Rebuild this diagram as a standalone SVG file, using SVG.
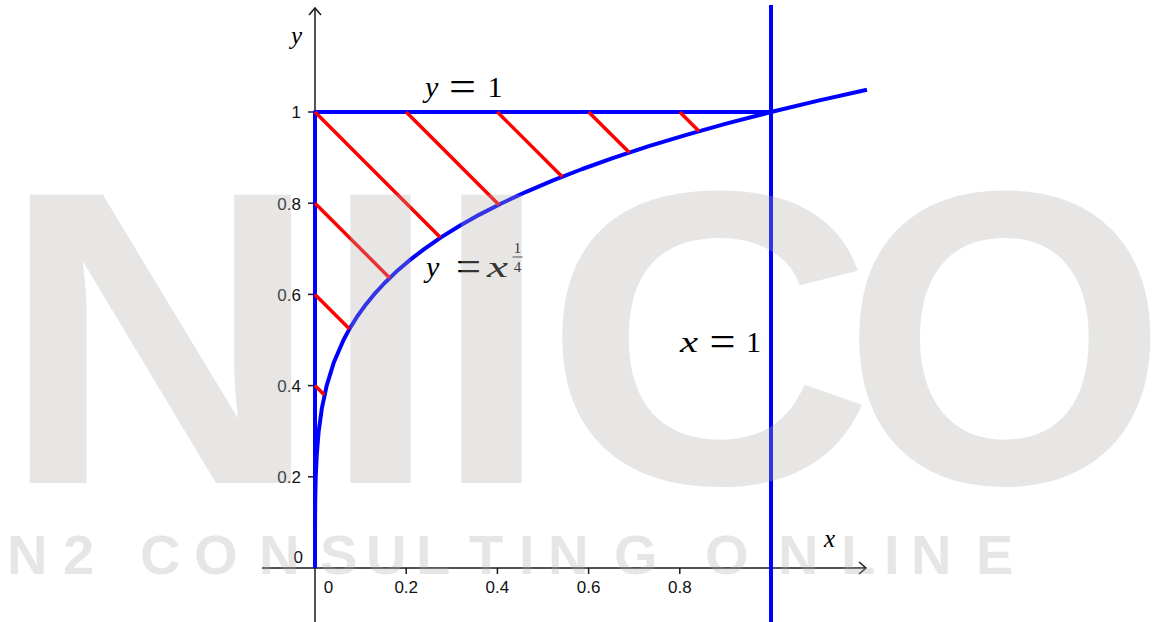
<svg xmlns="http://www.w3.org/2000/svg" width="1170" height="622" viewBox="0 0 1170 622">
<style>
.axis{stroke:#1a1a1a;stroke-width:1.5;fill:none}
.tick{stroke:#1a1a1a;stroke-width:1.5}
.tl{font-family:"Liberation Sans",Arial,sans-serif;font-size:17px;fill:#111}
.tlx{text-anchor:middle}
.tly{text-anchor:end}
.blue{stroke:#0000ff;stroke-width:4;fill:none;stroke-linejoin:round}
.red{stroke:#ff0000;stroke-width:3.5}
.math{font-family:"Liberation Serif","Times New Roman",serif;fill:#000;font-size:30px}
.it{font-style:italic}
.eq{font-size:44px;text-anchor:middle}
.frac{font-size:15px;text-anchor:middle}
.wm{font-family:"Liberation Sans",Arial,sans-serif;font-weight:bold;fill:#b2afac}
</style>
<defs>
<marker id="arr" markerWidth="10" markerHeight="14" refX="8" refY="7" orient="auto" markerUnits="userSpaceOnUse">
<path d="M1,1 L8,7 L1,13" fill="none" stroke="#1a1a1a" stroke-width="1.5"/>
</marker>
</defs>
<rect width="1170" height="622" fill="#fff"/>

<g id="axes">
<line class="axis" x1="262" y1="568" x2="866" y2="568" marker-end="url(#arr)"/>
<line class="axis" x1="315" y1="622" x2="315" y2="8" marker-end="url(#arr)"/>
<g id="x-ticks">
<line class="tick" x1="406.2" y1="568" x2="406.2" y2="574"/>
<line class="tick" x1="497.4" y1="568" x2="497.4" y2="574"/>
<line class="tick" x1="588.6" y1="568" x2="588.6" y2="574"/>
<line class="tick" x1="679.8" y1="568" x2="679.8" y2="574"/>
<line class="tick" x1="771" y1="568" x2="771" y2="574"/>
</g>
<g id="y-ticks">
<line class="tick" x1="308" y1="476.8" x2="315" y2="476.8"/>
<line class="tick" x1="308" y1="385.6" x2="315" y2="385.6"/>
<line class="tick" x1="308" y1="294.4" x2="315" y2="294.4"/>
<line class="tick" x1="308" y1="203.2" x2="315" y2="203.2"/>
<line class="tick" x1="308" y1="112" x2="315" y2="112"/>
</g>
<g id="x-tick-labels" class="tl tlx">
<text x="328.5" y="593">0</text>
<text x="406.2" y="593">0.2</text>
<text x="497.4" y="593">0.4</text>
<text x="588.6" y="593">0.6</text>
<text x="679.8" y="593">0.8</text>
</g>
<g id="y-tick-labels" class="tl tly">
<text x="303" y="563">0</text>
<text x="301" y="483">0.2</text>
<text x="301" y="392">0.4</text>
<text x="301" y="301">0.6</text>
<text x="301" y="209.5">0.8</text>
<text x="301" y="118">1</text>
</g>
<text id="x-axis-label" class="math it" x="824" y="547" style="font-size:25px">x</text>
<text id="y-axis-label" class="math it" x="291" y="44" style="font-size:25px">y</text>
</g>

<g id="boundary-x0-y1">
<polyline class="blue" points="315,568 315,112 771,112"/>
</g>
<g id="line-x1">
<line class="blue" x1="771" y1="5" x2="771" y2="622"/>
</g>
<g id="curve">
<polyline class="blue" points="315,568 315.003,545.2 315.05,522.4 315.23,499.6 315.73,476.8 316.78,454 318.69,431.2 321.84,408.4 326.67,385.6 333.70,362.8 343.5,340 349.64,328.6 356.73,317.2 364.85,305.8 374.10,294.4 384.58,283 396.40,271.6 409.66,260.2 424.49,248.8 440.98,237.4 459.28,226 479.50,214.6 501.78,203.2 526.24,191.8 553.03,180.4 582.30,169 614.18,157.6 648.83,146.2 686.41,134.8 727.08,123.4 771,112 818.34,100.6 866.95,89.7"/>
</g>
<g id="hatch">
<line class="red" x1="315" y1="385.6" x2="324.4" y2="395"/>
<line class="red" x1="315" y1="294.4" x2="349.5" y2="328.9"/>
<line class="red" x1="315" y1="203.2" x2="389.7" y2="277.9"/>
<line class="red" x1="315" y1="112" x2="440.2" y2="237.2"/>
<line class="red" x1="406.2" y1="112" x2="498.9" y2="204.7"/>
<line class="red" x1="497.4" y1="112" x2="562.2" y2="176.8"/>
<line class="red" x1="588.6" y1="112" x2="629.3" y2="152.5"/>
<line class="red" x1="679.8" y1="112" x2="699" y2="131.2"/>
</g>

<g id="label-y1" class="math">
<text class="it" x="425" y="97">y</text>
<text class="eq" x="462.5" y="101" textLength="27" lengthAdjust="spacingAndGlyphs">=</text>
<text x="495" y="97" text-anchor="middle">1</text>
</g>
<g id="label-curve" class="math">
<text class="it" x="426" y="277">y</text>
<text class="eq" x="468.5" y="281" textLength="25" lengthAdjust="spacingAndGlyphs">=</text>
<text class="it" x="487" y="277" textLength="21" lengthAdjust="spacingAndGlyphs">x</text>
<text class="frac" x="517.5" y="253">1</text>
<line x1="512.5" y1="257" x2="522.5" y2="257" stroke="#000" stroke-width="0.8"/>
<text class="frac" x="517.5" y="271.5">4</text>
</g>
<g id="label-x1" class="math">
<text class="it" x="680" y="352" textLength="18" lengthAdjust="spacingAndGlyphs">x</text>
<text class="eq" x="722.5" y="356" textLength="26" lengthAdjust="spacingAndGlyphs">=</text>
<text x="753.5" y="352" text-anchor="middle">1</text>
</g>

<g id="watermark" class="wm" opacity="0.3">
<text x="0" y="483" font-size="419" textLength="321" lengthAdjust="spacingAndGlyphs">N</text>
<text x="380.5" y="483" font-size="419" text-anchor="middle">I</text>
<text x="491.5" y="483" font-size="419" text-anchor="middle">I</text>
<text x="709" y="483" font-size="419" text-anchor="middle" textLength="331" lengthAdjust="spacingAndGlyphs">C</text>
<text x="842" y="483" font-size="419">O</text>
<text y="574" font-size="56" x="7 63 100 140 194 259 320 366 416 469 519 548 614 680 705 778 841 884 911 976">N2 CONSULTING ONLINE</text>
</g>
</svg>
